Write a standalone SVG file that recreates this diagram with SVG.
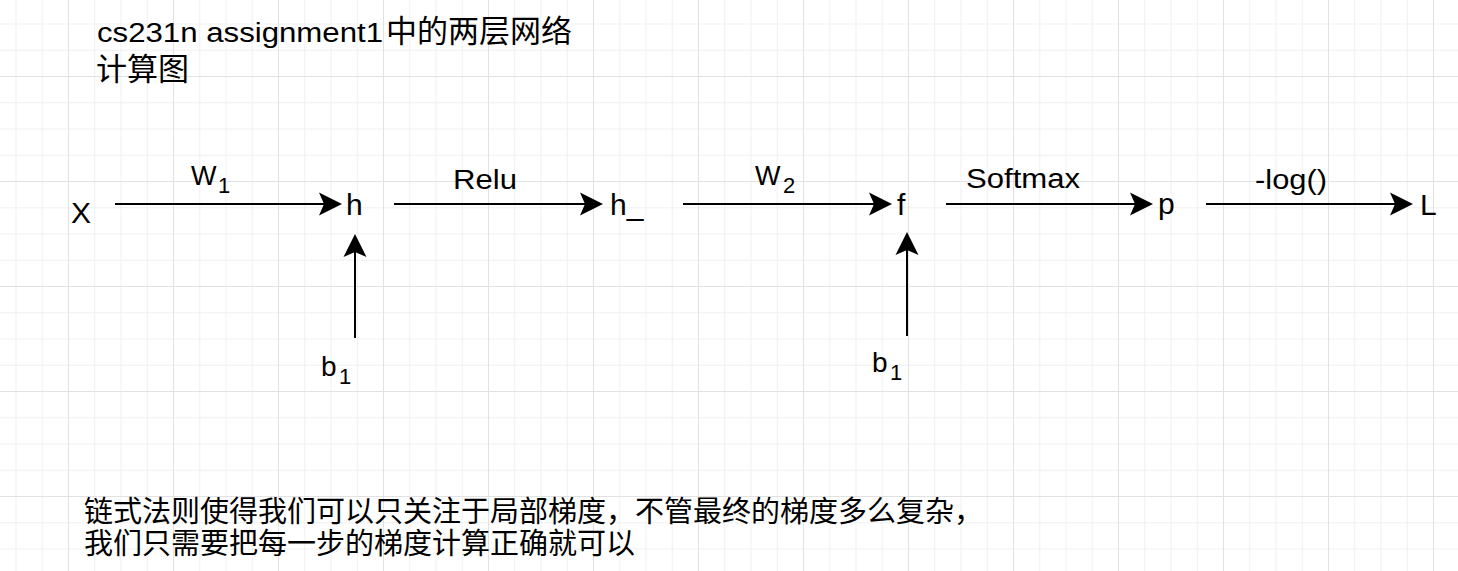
<svg xmlns="http://www.w3.org/2000/svg" width="1458" height="571" viewBox="0 0 1458 571">
  <style>
    .t { font-family: "Liberation Sans", "Noto Sans CJK SC", sans-serif; fill: #000000; }
    .c { font-family: "Noto Sans CJK SC", sans-serif; fill: #000000; }
    .edge { stroke: #000000; stroke-width: 2; fill: none; marker-end: url(#arr); }
  </style>
  <defs>
    <pattern id="grid" patternUnits="userSpaceOnUse" x="68" y="76" width="105" height="105">
      <rect x="0" y="0" width="105" height="105" fill="#ffffff"/>
      <rect x="26.25" y="0" width="1" height="105" fill="#f1f1f1"/>
      <rect x="52.5" y="0" width="1" height="105" fill="#f1f1f1"/>
      <rect x="78.75" y="0" width="1" height="105" fill="#f1f1f1"/>
      <rect x="0" y="26.25" width="105" height="1" fill="#f1f1f1"/>
      <rect x="0" y="52.5" width="105" height="1" fill="#f1f1f1"/>
      <rect x="0" y="78.75" width="105" height="1" fill="#f1f1f1"/>
      <rect x="0" y="0" width="1" height="105" fill="#e2e2e2"/>
      <rect x="0" y="0" width="105" height="1" fill="#e2e2e2"/>
    </pattern>
    <marker id="arr" markerUnits="userSpaceOnUse" markerWidth="30" markerHeight="30" refX="11" refY="12" orient="auto">
      <path d="M0,0.5 L23,12 L0,23.5 L5,12 Z" fill="#000000"/>
    </marker>
  </defs>
  <rect x="0" y="0" width="1458" height="571" fill="url(#grid)"/>

  <g id="title">
    <text class="t" y="42"><tspan x="97" font-size="27" textLength="286" lengthAdjust="spacingAndGlyphs">cs231n assignment1</tspan><tspan x="386" font-size="31" font-family="Noto Sans CJK SC, sans-serif">中的两层网络</tspan><tspan class="c" x="96" y="80" font-size="31">计算图</tspan></text>
  </g>

  <g id="connectors">
    <path class="edge" d="M115,204 H330"/>
    <path class="edge" d="M394,204 H591"/>
    <path class="edge" d="M683,204 H880"/>
    <path class="edge" d="M946,204 H1141"/>
    <path class="edge" d="M1206,204 H1401"/>
    <path class="edge" d="M355,338 V246"/>
    <path class="edge" d="M907,336 V244"/>
  </g>

  <g id="edge-labels">
    <text class="t" x="191" y="185" font-size="27">W<tspan x="218" y="193" font-size="22">1</tspan></text>
    <text class="t" x="453" y="189" font-size="27" textLength="64" lengthAdjust="spacingAndGlyphs">Relu</text>
    <text class="t" x="755" y="185" font-size="27">W<tspan x="783" y="193" font-size="22">2</tspan></text>
    <text class="t" x="966" y="188" font-size="27" textLength="114" lengthAdjust="spacingAndGlyphs">Softmax</text>
    <text class="t" x="1255" y="189" font-size="27" textLength="72" lengthAdjust="spacingAndGlyphs">-log()</text>
  </g>

  <g id="node-X"><text class="t" x="71" y="223" font-size="30">X</text></g>
  <g id="node-h"><text class="t" x="346" y="215" font-size="30">h</text></g>
  <g id="node-h_"><text class="t" x="610" y="215" font-size="30">h_</text></g>
  <g id="node-f"><text class="t" x="897" y="215" font-size="30">f</text></g>
  <g id="node-p"><text class="t" x="1158" y="214" font-size="30">p</text></g>
  <g id="node-L"><text class="t" x="1420" y="215" font-size="30">L</text></g>
  <g id="node-b1-left"><text class="t" x="321" y="376" font-size="28">b<tspan x="339" y="384" font-size="22">1</tspan></text></g>
  <g id="node-b1-right"><text class="t" x="872" y="372" font-size="28">b<tspan x="890" y="380" font-size="22">1</tspan></text></g>

  <g id="note">
    <text class="c" font-size="29"><tspan x="84" y="522">链式法则使得我们可以只关注于局部梯度，不管最终的梯度多么复杂，</tspan><tspan x="84" y="554">我们只需要把每一步的梯度计算正确就可以</tspan></text>
  </g>
</svg>
